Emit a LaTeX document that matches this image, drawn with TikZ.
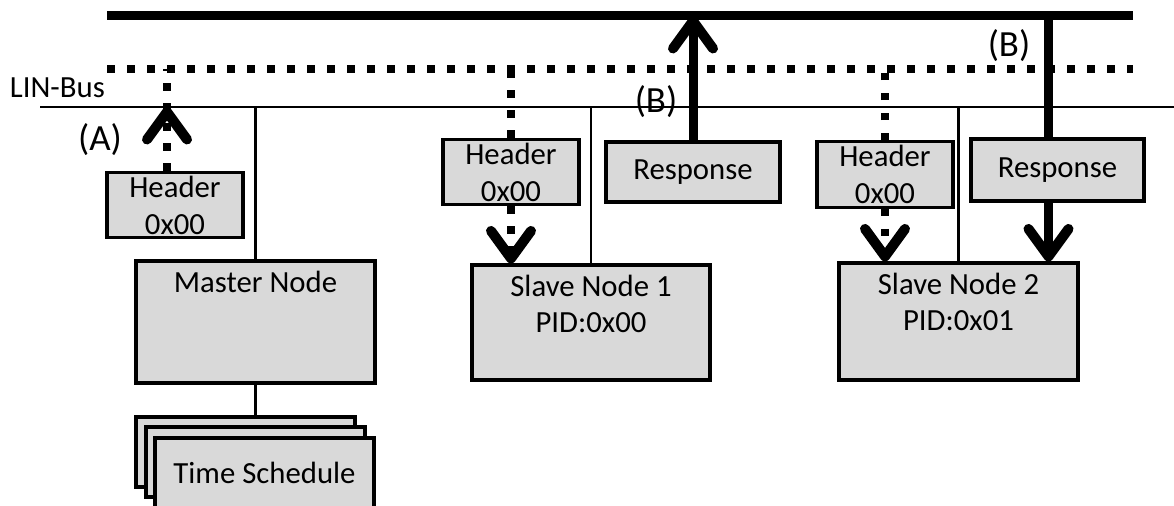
\documentclass[tikz,border=0pt]{standalone}
\usepackage{fontspec}
\setmainfont{Carlito}
\usetikzlibrary{arrows.meta}
\definecolor{boxgray}{HTML}{D9D9D9}

\begin{document}
\begin{tikzpicture}[
  x=0.02cm, y=-0.02cm,
  box/.style={draw, line width=1.8pt, fill=boxgray, align=center, inner sep=2pt, font=\fontsize{17.5}{21}\selectfont},
  inlbl/.style={anchor=north, align=center, yshift=-0.12cm, font=\fontsize{17.5}{20}\selectfont},
  bus/.style={line width=1.5pt},
  dotbus/.style={line width=0.17cm, dash pattern=on 0.17cm off 0.23cm},
  databus/.style={line width=0.18cm},
  hdr/.style={line width=0.15cm, dash pattern=on 0.15cm off 0.25cm},
  rsp/.style={line width=0.18cm},
  barb/.style={-{Straight Barb[round, length=0.55cm, width=0.8cm, line width=0.2cm]}},
  tag/.style={font=\fontsize{21}{24}\selectfont},
]
  \useasboundingbox (0,0) rectangle (1174,506);

  % Buses
  \coordinate (top1) at (107,16);
  \coordinate (top2) at (1133,16);
  \coordinate (dot1) at (107,69);
  \coordinate (dot2) at (1133,69);
  \coordinate (lin1) at (40,107);
  \coordinate (lin2) at (1174,107);
  \draw[databus] (top1) -- (top2);
  \draw[dotbus] (dot1) -- (dot2);
  \draw[bus] (lin1) -- (lin2);
  \node[anchor=east, font=\fontsize{17.5}{20}\selectfont] (linlbl) at (111,88) {LIN-Bus};

  % Master side
  \node[box, minimum width=2.72cm, minimum height=1.28cm] (hA) at (175,205) {Header\\0x00};
  \node[box, minimum width=4.78cm, minimum height=2.44cm, label={[inlbl]north:Master Node}] (ms) at (255.5,322) {};
  \foreach \i/\x/\y in {1/245.5/452, 2/255.5/462} {
    \node[box, minimum width=4.38cm, minimum height=1.4cm] (ts\i) at (\x,\y) {};
  }
  \node[box, minimum width=4.38cm, minimum height=1.4cm] (ts3) at (264.5,473) {Time Schedule};

  % Slave side
  \node[box, minimum width=2.72cm, minimum height=1.28cm] (h1) at (511,172) {Header\\0x00};
  \node[box, minimum width=3.48cm, minimum height=1.2cm] (r1) at (693,172) {Response};
  \node[box, minimum width=4.76cm, minimum height=2.3cm, label={[inlbl]north:Slave Node 1\\PID:0x00}] (sn1) at (591,322.5) {};
  \node[box, minimum width=2.72cm, minimum height=1.3cm] (h2) at (885,174.5) {Header\\0x00};
  \node[box, minimum width=3.46cm, minimum height=1.24cm] (r2) at (1057.5,170) {Response};
  \node[box, minimum width=4.78cm, minimum height=2.34cm, label={[inlbl]north:Slave Node 2\\PID:0x01}] (sn2) at (958.5,321.5) {};

  % Taps on the LIN bus
  \draw[bus] (ms.north) -- (ms.north |- lin1);
  \draw[bus] (ms.south) -- (ms.south |- ts1.north);
  \draw[bus] (sn1.north) -- (sn1.north |- lin1);
  \draw[bus] (sn2.north) -- (sn2.north |- lin1);

  % Header frames
  \draw[hdr] ([xshift=-0.16cm]hA.north) -- ([xshift=-0.16cm]hA.north |- dot1);
  \draw[hdr, barb] ([xshift=-0.16cm]hA.north) -- ([xshift=-0.16cm]hA.north |- lin1);
  \draw[hdr] (h1.north) -- (h1.north |- dot1);
  \draw[hdr, barb] (h1.south) -- (h1.south |- sn1.north);
  \draw[hdr] (h2.north) -- (h2.north |- dot1);
  \draw[hdr, barb] (h2.south) -- (h2.south |- sn2.north);

  % Response frames
  \draw[rsp, barb] (r1.north) -- (r1.north |- top1);
  \draw[rsp] ([xshift=-0.18cm]r2.north) -- ([xshift=-0.18cm]r2.north |- top1);
  \draw[rsp, barb] ([xshift=-0.18cm]r2.south) -- ([xshift=-0.18cm]r2.south |- sn2.north);

  % Labels
  \node[tag] (tA) at (100,140) {(A)};
  \node[tag] (tB1) at (656,102) {(B)};
  \node[tag] (tB2) at (1009,46) {(B)};
\end{tikzpicture}
\end{document}
